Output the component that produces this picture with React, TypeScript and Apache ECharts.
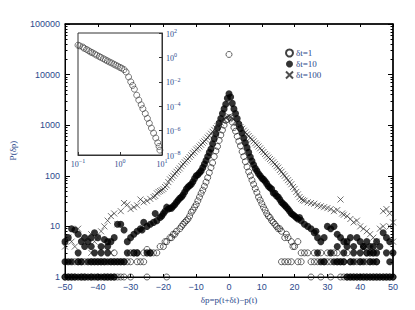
import React, { useEffect, useRef } from 'react';
import * as echarts from 'echarts';

// ---------- data ----------
const legendNames = ['δt=1', 'δt=10', 'δt=100'];
const yTickLabels = ['1', '10', '100', '1000', '10000', '100000'];

// δt = 1 (open circles): [δp, count]
const open1Core: [number, number][] = [
  [0, 25000], [0.5, 1400], [-0.5, 1300], [1, 1150], [-1, 1250], [1.5, 900], [-1.5, 1000], [2, 760], [-2, 800],
  [2.5, 600], [-2.5, 640], [3, 480], [-3, 500], [3.5, 390], [-3.5, 380], [4, 300], [-4, 310], [4.5, 240], [-4.5, 240],
  [5, 190], [-5, 180], [5.5, 150], [-5.5, 145], [6, 120], [-6, 115], [6.5, 100], [-6.5, 92], [7, 82], [-7, 75],
  [7.5, 68], [-7.5, 62], [8, 56], [-8, 52], [8.5, 47], [-8.5, 45], [9, 38], [-9, 38], [9.5, 33], [-9.5, 32],
  [10, 28], [-10, 27], [10.5, 24], [-10.5, 24], [11, 21], [-11, 21], [11.5, 18], [-11.5, 19], [12, 16], [-12, 16],
  [12.5, 15], [-12.5, 14], [13, 13], [-13, 13], [13.5, 12], [-13.5, 12], [14, 11], [-14, 11], [14.5, 10], [-14.5, 10],
  [15, 9], [-15, 9], [15.5, 9], [-16, 8], [16, 8], [-16.5, 7], [17, 6], [-17, 7], [17.5, 7], [-17.5, 6], [18, 6],
  [-18, 6], [19, 5], [-19, 5], [19.5, 4], [-19.5, 5], [20, 4], [-20, 4], [21, 5], [-21, 4], [22, 3], [-22, 3],
  [23, 3], [-23, 3], [24, 3], [-24, 3], [-25, 3.5], [26, 3], [-26, 3], [28, 3], [-28, 3], [30, 3], [-30, 3],
  [32, 3], [33, 3], [36, 3], [-35, 3], [-29, 3], [42, 3], [44, 3],
];
const open1AtTwo: number[] = [16, 17, 18, 19, 21, 22, 25, 26, 27, 29, 30, 31, 33, 34, 35, 37, 39, 40, 42, 43, 45,
  -47, -46, -45, -44, -42, -41, -40, -39, -38, -36, -35, -34, -33, -32, -31, -30, -28, -27, -26];
const open1AtOne: number[] = [25, 28, 31, 34, 35, 36, 37, 38, 39, 40, 41, 42, 43, 44, 45, 46, 47, 48, 49, 50,
  -50, -49, -48, -47, -45, -44, -42, -40, -38, -37, -36, -35, -34, -33, -32, -30, -25, -19];

// δt = 10 (filled circles)
const filled10Core: [number, number][] = [
  [0, 4200], [0.5, 3600], [-0.5, 3400], [1, 2700], [-1, 2600], [1.5, 2100], [-1.5, 2100], [2, 1700], [-2, 1700],
  [2.5, 1350], [-2.5, 1350], [3, 1050], [-3, 1100], [3.5, 860], [-3.5, 880], [4, 700], [-4, 680], [4.5, 560],
  [-4.5, 540], [5, 450], [-5, 430], [5.5, 360], [-5.5, 340], [6, 290], [-6, 290], [6.5, 235], [-6.5, 240],
  [7, 195], [-7, 200], [7.5, 165], [-7.5, 170], [8, 140], [-8, 145], [8.5, 125], [-8.5, 125], [9, 110], [-9, 115],
  [9.5, 100], [-9.5, 105], [10, 90], [-10, 100], [10.5, 85], [-10.5, 88], [11, 78], [-11, 76], [11.5, 70],
  [-11.5, 68], [12, 62], [-12, 64], [12.5, 58], [-12.5, 60], [13, 55], [-13, 55], [13.5, 46], [-13.5, 48],
  [14, 45], [-14, 42], [14.5, 40], [-14.5, 38], [15, 38], [-15, 36], [15.5, 34], [-15.5, 33], [16, 30], [-16, 30],
  [16.5, 28], [-16.5, 27], [17, 26], [-17, 25], [17.5, 24], [-17.5, 23], [18, 22], [-18, 23], [18.5, 20],
  [-18.5, 22], [19, 18], [-19, 24], [19.5, 17], [-19.5, 20], [20, 16], [-20, 18], [20.5, 15], [-20.5, 16],
  [21, 14], [-21, 15], [21.5, 15], [-22, 13], [22, 13], [-22.5, 18], [23, 11], [-23, 12], [24, 10], [-24, 11],
  [25, 9], [-25, 10], [26, 7.5], [-26, 12], [26.5, 8], [-26.5, 8.5], [27, 6], [-27, 9], [28, 5], [-28, 8],
  [29, 6], [-29, 7], [30, 10], [-30, 6], [31, 9], [-31, 5], [32, 10], [-32, 8.5], [33, 7], [-33, 11], [34, 6],
  [-34, 11], [35, 5], [-35, 6], [36, 5], [-36, 5], [37, 6], [-37, 5], [38, 4], [-38, 5.5], [39, 6], [-39, 4],
  [40, 5], [-40, 6], [41, 4], [-41, 7.5], [42, 5], [-42, 6], [43, 4], [-43, 5], [44, 3], [-44, 6], [45, 5],
  [-45, 5], [46, 4], [-46, 7], [47, 7.5], [-47, 8.5], [48, 6], [-48, 9], [49, 5], [-49, 6], [50, 3], [-50, 5],
];
const filled10AtThree: number[] = [-46, -41, -39, -37, -31, -29, -28, -25, -24, 27, 31, 35, 38, 40, 42, 43, 45, 48];
const filled10AtFour: number[] = [-44, -42, -37, 33, 36, 41, 44];
const filled10AtTwo: number[] = [-50, -49, -48, -46, -45, -43, -42, -41, -40, -39, -38, -37, -36, -35, -34, -33, -32,
  28, 29, 32, 33, 34, 35, 37, 38, 40, 41, 43, 44, 45, 49];
const filled10AtOne: number[] = [-50, -49, -48, -47, -46, -45, -44, -43, -42, -41, -40, -39, -38, -37, -36, -35,
  36, 37, 38, 39, 40, 41, 42, 43, 44, 45, 46, 47, 48, 49, 50];

// δt = 100 (crosses)
const cross100Core: [number, number][] = [
  [0, 1500], [0.5, 1450], [-0.5, 1450], [1, 1380], [-1, 1400], [1.5, 1300], [-1.5, 1300], [2, 1200], [-2, 1220],
  [2.5, 1100], [-2.5, 1120], [3, 1000], [-3, 1050], [3.5, 920], [-3.5, 960], [4, 850], [-4, 880], [4.5, 780],
  [-4.5, 810], [5, 720], [-5, 740], [5.5, 660], [-5.5, 680], [6, 610], [-6, 620], [6.5, 560], [-6.5, 570],
  [7, 520], [-7, 520], [7.5, 480], [-7.5, 480], [8, 440], [-8, 450], [8.5, 410], [-8.5, 410], [9, 380], [-9, 380],
  [9.5, 350], [-9.5, 350], [10, 320], [-10, 330], [10.5, 295], [-10.5, 300], [11, 270], [-11, 280], [11.5, 250],
  [-11.5, 255], [12, 230], [-12, 235], [12.5, 215], [-12.5, 215], [13, 200], [-13, 200], [13.5, 185], [-13.5, 185],
  [14, 170], [-14, 170], [14.5, 155], [-14.5, 155], [15, 145], [-15, 140], [15.5, 130], [-15.5, 130], [16, 120],
  [-16, 120], [16.5, 108], [-16.5, 110], [17, 100], [-17, 100], [17.5, 90], [-17.5, 92], [18, 82], [-18, 85],
  [18.5, 75], [-18.5, 75], [19, 68], [-19, 65], [19.5, 60], [-19.5, 60], [20, 55], [-20, 55], [20.5, 48],
  [-20.5, 52], [21, 43], [-21, 50], [21.5, 38], [-21.5, 48], [22, 35], [-22, 45], [22.5, 33], [-22.5, 40],
  [23, 32], [-23, 38], [24, 30], [-24, 35], [25, 29], [-25, 32], [26, 28], [-26, 30], [27, 26], [-27, 34],
  [28, 25], [-28, 26], [29, 24], [-29, 24], [30, 23], [-30, 22], [31, 22], [-31, 27], [32, 20], [-32, 29],
  [33, 21], [-33, 20], [34, 34], [34.5, 18], [-34, 11], [35, 17], [-35, 18], [36, 16], [-36, 16], [37, 14],
  [-37, 13], [38, 12], [-38, 10], [39, 13], [-39, 8], [40, 10], [-40, 6], [41, 9], [-41, 5], [42, 8], [-42, 7],
  [43, 7], [-43, 6], [44, 6], [-44, 5], [45, 5], [-45, 6], [46, 9], [-46, 9], [47, 20], [-47, 4], [48, 22],
  [-48, 5], [49, 18], [-49, 6], [50, 12], [-50, 4], [47, 10], [49, 10], [50, 5], [44, 4], [41, 4], [-36, 3],
  [-29, 3], [-42, 3],
];

// inset: log-log distribution (open circles)
const insetX: number[] = [0.10, 0.11, 0.13, 0.14, 0.16, 0.18, 0.20, 0.22, 0.25, 0.28, 0.32, 0.35, 0.40, 0.45,
  0.50, 0.56, 0.63, 0.71, 0.79, 0.89, 1.0, 1.1, 1.25, 1.4, 1.6, 1.8, 2.0, 2.2, 2.5, 2.8, 3.2, 3.5, 4.0, 4.5,
  5.0, 5.6, 6.3, 7.1, 7.9, 8.5, 8.9];
const insetY: number[] = [10, 8.9, 7.1, 5.6, 4.5, 3.5, 2.8, 2.4, 1.9, 1.5, 1.2, 1.0, 0.79, 0.63, 0.52, 0.42,
  0.35, 0.28, 0.23, 0.19, 0.15, 0.13, 0.10, 0.063, 0.025, 0.01, 0.005, 0.0025, 8e-4, 3.2e-4, 1.3e-4, 6.3e-5,
  2.5e-5, 1e-5, 4e-6, 1.6e-6, 6.3e-7, 2.5e-7, 1e-7, 5e-8, 2.5e-8];

// ---------- chart ----------
const BLUE = '#2c4a8c';
const CROSS = 'path://M0,0L10,10M10,0L0,10';

const atLevel = (xs: number[], y: number) => xs.map((x) => [x, y]);
const minus = (s: string) => s.replace('-', '\u2212');
const supFmt = (v: number) => {
  const e = Math.round(Math.log10(v));
  return '{b|10}{s|' + minus(String(e)) + '}';
};
const supRich = {
  b: { fontSize: 8, color: BLUE, fontFamily: 'Liberation Serif', verticalAlign: 'bottom', lineHeight: 10 },
  s: { fontSize: 6, color: BLUE, fontFamily: 'Liberation Serif', verticalAlign: 'top', lineHeight: 10 },
};

export default function App() {
  const ref = useRef<HTMLDivElement>(null);
  useEffect(() => {
    document.body.style.margin = '0';
    if (!ref.current) return;
    const chart = echarts.init(ref.current, undefined, { renderer: 'svg' });
    const open1 = [...open1Core, ...atLevel(open1AtTwo, 2), ...atLevel(open1AtOne, 1)];
    const filled10 = [
      ...filled10Core,
      ...atLevel(filled10AtFour, 4),
      ...atLevel(filled10AtThree, 3),
      ...atLevel(filled10AtTwo, 2),
      ...atLevel(filled10AtOne, 1),
    ];
    const inset = insetX.map((x, i) => [x, insetY[i]]);

    chart.setOption({
      animation: false,
      backgroundColor: '#fff',
      textStyle: { fontFamily: 'Liberation Sans' },
      grid: [
        { left: 60, top: 24, width: 333, height: 253, show: true, borderColor: '#000', borderWidth: 1, backgroundColor: 'transparent' },
        { left: 78, top: 33, width: 84, height: 122, show: true, borderColor: '#333', borderWidth: 1, backgroundColor: '#fff' },
      ],
      legend: {
        data: legendNames,
        orient: 'vertical',
        left: 280,
        top: 43,
        itemWidth: 7,
        itemHeight: 7,
        itemGap: 1,
        textStyle: { fontSize: 9, color: BLUE, fontFamily: 'Liberation Serif', lineHeight: 10, padding: [0, 0, 0, -2] },
      },
      xAxis: [
        {
          type: 'value', gridIndex: 0, min: -50, max: 50, interval: 10,
          axisLine: { show: true, onZero: false, lineStyle: { color: '#000', width: 1 } },
          axisTick: { show: true, inside: true, length: 3, lineStyle: { color: '#000' } },
          axisLabel: { fontSize: 9, color: BLUE, margin: 5, formatter: (v: number) => minus(String(v)) },
          splitLine: { show: false },
          name: 'δp=p(t+δt)−p(t)', nameLocation: 'middle', nameGap: 18,
          nameTextStyle: { fontSize: 9, color: BLUE, fontFamily: 'Liberation Serif' },
        },
        {
          type: 'value', gridIndex: 0, position: 'top', min: -50, max: 50, interval: 10,
          axisLine: { show: true, onZero: false, lineStyle: { color: '#000', width: 1.5 } },
          axisTick: { show: true, inside: true, length: 3, lineStyle: { color: '#000' } },
          axisLabel: { show: false }, splitLine: { show: false },
        },
        {
          type: 'log', logBase: 10, gridIndex: 1, min: 0.1, max: 10,
          axisLine: { show: true, onZero: false, lineStyle: { color: '#333' } },
          axisTick: { show: true, inside: true, length: 3, lineStyle: { color: '#333' } },
          axisLabel: { margin: 3, formatter: supFmt, rich: supRich },
          splitLine: { show: false },
        },
      ],
      yAxis: [
        {
          type: 'log', logBase: 10, gridIndex: 0, min: 1, max: 100000,
          axisLine: { show: true, onZero: false, lineStyle: { color: '#000', width: 1 } },
          axisTick: { show: true, inside: true, length: 5, lineStyle: { color: '#000' } },
          minorTick: { show: true, splitNumber: 9, length: 2.5, lineStyle: { color: '#000' } },
          axisLabel: { fontSize: 9, color: BLUE, margin: 5, formatter: (v: number) => yTickLabels[Math.round(Math.log10(v))] ?? String(v) },
          splitLine: { show: false },
          name: 'P(δp)', nameLocation: 'middle', nameGap: 48, nameRotate: 90,
          nameTextStyle: { fontSize: 9, color: BLUE, fontFamily: 'Liberation Serif' },
        },
        {
          type: 'log', logBase: 10, gridIndex: 0, position: 'right', min: 1, max: 100000,
          axisLine: { show: true, onZero: false, lineStyle: { color: '#000', width: 1.5 } },
          axisTick: { show: true, inside: true, length: 5, lineStyle: { color: '#000' } },
          minorTick: { show: true, splitNumber: 9, length: 2.5, lineStyle: { color: '#000' } },
          axisLabel: { show: false }, splitLine: { show: false },
        },
        {
          type: 'log', logBase: 10, gridIndex: 1, position: 'right', min: 1e-8, max: 100, interval: 2,
          axisLine: { show: true, onZero: false, lineStyle: { color: '#333' } },
          axisTick: { show: true, inside: true, length: 3, lineStyle: { color: '#333' } },
          axisLabel: { margin: 4, formatter: supFmt, rich: supRich },
          splitLine: { show: false },
        },
      ],
      series: [
        {
          name: legendNames[0], type: 'scatter', xAxisIndex: 0, yAxisIndex: 0, data: open1, clip: false,
          symbol: 'circle', symbolSize: 6,
          itemStyle: { color: 'rgba(255,255,255,0)', borderColor: '#111', borderWidth: 0.8 },
        },
        {
          name: legendNames[1], type: 'scatter', xAxisIndex: 0, yAxisIndex: 0, data: filled10, clip: false,
          symbol: 'circle', symbolSize: 7,
          itemStyle: { color: '#000' },
        },
        {
          name: legendNames[2], type: 'scatter', xAxisIndex: 0, yAxisIndex: 0, data: cross100Core, clip: false,
          symbol: CROSS, symbolSize: 6,
          itemStyle: { color: 'rgba(0,0,0,0)', borderColor: '#222', borderWidth: 0.8 },
        },
        {
          name: 'inset', type: 'scatter', xAxisIndex: 2, yAxisIndex: 2, data: inset, clip: false,
          symbol: 'circle', symbolSize: 6,
          itemStyle: { color: 'rgba(255,255,255,0)', borderColor: '#333', borderWidth: 0.8 },
        },
      ],
    });
    return () => chart.dispose();
  }, []);
  return <div ref={ref} style={{ width: 415, height: 310 }} />;
}
